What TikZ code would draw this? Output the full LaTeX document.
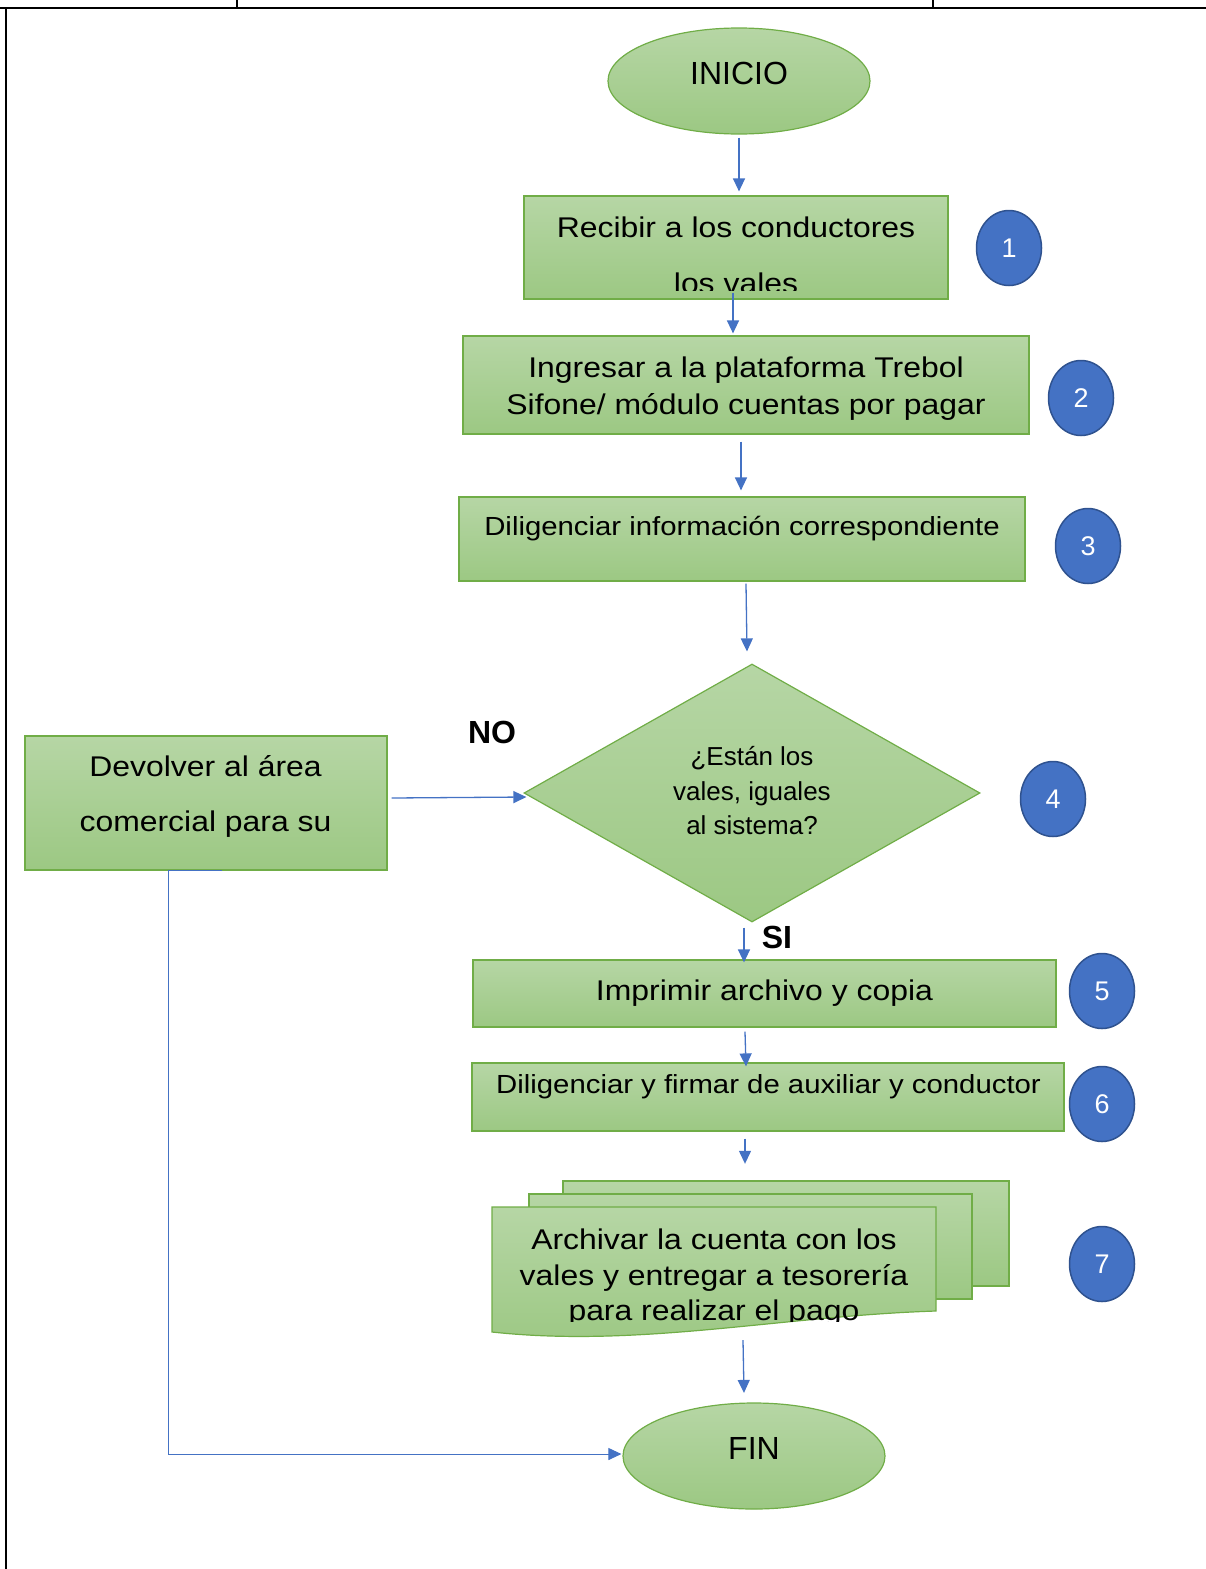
\documentclass[tikz,border=0pt]{standalone}
\usepackage{fontspec}
\setmainfont{Liberation Sans}
\newfontfamily\widefont{Liberation Sans}[FakeStretch=1.12]
\usetikzlibrary{shapes.geometric,arrows.meta,calc}
\definecolor{gtop}{RGB}{182,214,165}
\definecolor{gbot}{RGB}{156,200,131}
\definecolor{gedge}{RGB}{112,173,71}
\definecolor{cfill}{RGB}{68,114,196}
\definecolor{cedge}{RGB}{47,82,143}
\definecolor{arrblue}{RGB}{68,114,196}
\newcommand\myfs[1]{\fontsize{#1}{#1}\selectfont}
\begin{document}
\begin{tikzpicture}[x=1pt,y=-1pt,
  gbox/.style={draw=gedge,line width=1.2pt,top color=gtop,bottom color=gbot,inner sep=0pt},
  oval/.style={gbox,ellipse,minimum width=262pt,minimum height=106pt},
  num/.style={ellipse,draw=cedge,line width=1.5pt,fill=cfill,text=white,
    minimum width=65pt,minimum height=75pt,inner sep=0pt,font={\myfs{27}}},
  ptxt/.style={anchor=base,inner sep=0pt,font={\myfs{32}}},
  txt/.style={anchor=base,inner sep=0pt,font={\widefont\myfs{28.5}}},
  stxt/.style={anchor=base,inner sep=0pt,font={\widefont\myfs{26.2}}},
  dtxt/.style={anchor=base,inner sep=0pt,font={\myfs{26}}},
  lbl/.style={anchor=base,inner sep=0pt,font={\myfs{32}\bfseries}},
  arr/.style={draw=arrblue,line width=1.3pt,-{Triangle[length=13pt,width=12pt]}},
  frame/.style={draw=black,line width=2pt}]
\useasboundingbox (0,0) rectangle (1206,1569);
% frame
\draw[frame] (0,8) -- (1206,8);
\draw[frame] (237,0) -- (237,8);
\draw[frame] (933,0) -- (933,8);
\draw[frame] (6,8) -- (6,1569);

% shapes
\node[oval] (inicio) at (739,81) {};
\node[ptxt] at (739,84) {INICIO};

\node[gbox,minimum width=424pt,minimum height=103pt] (b1) at (736,247.5) {};
\node[txt] at (736,237) {Recibir a los conductores};
\begin{scope}
\clip (b1.north west) rectangle ($(b1.south east)+(0,-9)$);
\node[txt] at (736,293) {los vales};
\end{scope}

\node[gbox,minimum width=566pt,minimum height=98pt] (b2) at (746,385) {};
\node[txt] at (746,377) {Ingresar a la plataforma Trebol};
\node[txt] at (746,414) {Sifone/ módulo cuentas por pagar};

\node[gbox,minimum width=566pt,minimum height=84pt] (b3) at (742,539) {};
\node[stxt] at (742,535) {Diligenciar información correspondiente};

\node[gbox,diamond,minimum width=456pt,minimum height=258pt] (dec) at (752,793) {};
\node[dtxt] at (752,765) {¿Están los};
\node[dtxt] at (752,800) {vales, iguales};
\node[dtxt] at (752,834) {al sistema?};

\node[lbl] at (492,743) {NO};
\node[lbl] at (777,948) {SI};

\node[gbox,minimum width=362pt,minimum height=134pt] (dev) at (206,803) {};
\node[txt] at (205.5,776) {Devolver al área};
\node[txt] at (205.5,831) {comercial para su};

\node[gbox,minimum width=583pt,minimum height=67pt] (b5) at (764.5,993.5) {};
\node[txt] at (764.5,1000) {Imprimir archivo y copia};

\node[gbox,minimum width=592pt,minimum height=68pt] (b6) at (768,1097) {};
\node[stxt] at (768.5,1093) {Diligenciar y firmar de auxiliar y conductor};

% multidocument
\node[inner sep=0pt,minimum width=516pt,minimum height=156pt] (doc) at (750,1258) {};
\path[gbox] (563,1181) rectangle (1009,1286);
\path[gbox] (529,1194) rectangle (972,1299);
\path[gbox] (492,1207) -- (936,1207) -- (936,1311)
  .. controls (780,1316) and (640,1348) .. (492,1332) -- cycle;
\begin{scope}
\clip (492,1207) rectangle (936,1321);
\node[txt] at (714,1249) {Archivar la cuenta con los};
\node[txt] at (714,1285) {vales y entregar a tesorería};
\node[txt] at (714,1320) {para realizar el pago};
\end{scope}

\node[oval] (fin) at (754,1456) {};
\node[ptxt] at (754,1459) {FIN};

% numbers
\node[num] (c1) at (1009,248) {1};
\node[num] (c2) at (1081,398) {2};
\node[num] (c3) at (1088,546) {3};
\node[num] (c4) at (1053,799) {4};
\node[num] (c5) at (1102,991) {5};
\node[num] (c6) at (1102,1104) {6};
\node[num] (c7) at (1102,1264) {7};

% connectors
\draw[arr] ($(inicio.south)+(0,3)$) -- ($(b1.north)+(3,-4)$);
\draw[arr] ($(b1.south)+(-3,-7)$) -- ($(b2.north)+(-13,-2)$);
\draw[arr] ($(b2.south)+(-5,7)$) -- ($(b3.north)+(-1,-6)$);
\draw[arr] ($(b3.south)+(4,2)$) -- ($(dec.north)+(-5,-12)$);
\draw[arr] ($(dev.east)+(4,-5)$) -- ($(dec.west)+(3,4)$);
\draw[arr] ($(dec.south)+(-8,5)$) -- ($(b5.north)+(-20.5,3)$);
\draw[arr] ($(b5.south)+(-19.5,4)$) -- ($(b6.north)+(-22,4)$);
\draw[arr] ($(b6.south)+(-23,7)$) -- ($(doc.north)+(-5,-16)$);
\draw[arr] ($(doc.south)+(-7,4)$) -- ($(fin.north)+(-10,-9.5)$);
\draw[arr,line width=1pt] ($(dev.south)+(16,0)$) -- ($(dev.south)+(-38,0)$)
  |- ($(fin.west)+(-1,-2)$);
\end{tikzpicture}
\end{document}
